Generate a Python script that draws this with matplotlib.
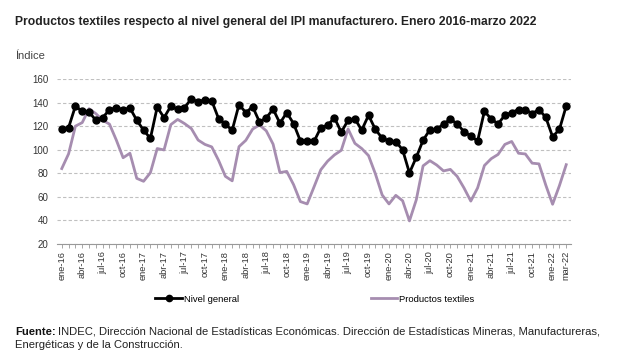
import matplotlib
matplotlib.use("Agg")
import matplotlib.pyplot as plt
from matplotlib.lines import Line2D

months_es = ["ene", "feb", "mar", "abr", "may", "jun", "jul", "ago", "sep", "oct", "nov", "dic"]
categories = [f"{months_es[m]}-{str(y)[2:]}" for y in range(2016, 2023) for m in range(12)][:75]

nivel_general = [117.4, 118.8, 137.0, 132.5, 132.0, 125.0, 127.2, 134.0, 135.6, 134.0, 135.4, 125.0,
                 116.6, 109.6, 136.2, 127.2, 137.0, 134.2, 135.6, 143.2, 140.4, 142.6, 141.5, 126.4,
                 121.5, 116.6, 138.3, 131.5, 136.5, 123.6, 127.0, 134.5, 122.5, 131.5, 122.2, 107.5,
                 107.0, 107.0, 118.7, 120.8, 127.0, 114.9, 125.0, 126.2, 116.6, 129.2, 117.3, 109.8,
                 107.5, 106.9, 99.9, 80.3, 93.5, 108.0, 117.0, 117.3, 121.8, 125.7, 122.2, 115.2,
                 111.7, 107.4, 132.7, 126.0, 122.0, 129.2, 131.5, 134.1, 134.1, 130.6, 134.1, 127.5,
                 111.0, 117.2, 137.1]

productos_textiles = [84.0, 96.5, 120.0, 123.0, 134.8, 130.6, 125.0, 121.7, 108.2, 93.2, 97.0, 75.7,
                      73.2, 80.5, 101.0, 99.8, 121.3, 125.7, 122.2, 118.0, 108.2, 104.5, 102.4, 91.0,
                      77.4, 73.6, 102.6, 108.0, 117.5, 121.0, 116.0, 104.7, 80.6, 81.6, 70.4, 56.0,
                      54.0, 68.4, 83.0, 90.3, 95.6, 99.5, 117.6, 105.4, 101.0, 95.0, 79.6, 61.6,
                      54.0, 61.3, 56.7, 39.6, 57.4, 86.3, 90.7, 87.0, 82.0, 83.3, 77.4, 67.6,
                      56.4, 67.6, 86.6, 92.4, 96.0, 104.5, 107.0, 97.0, 96.4, 88.6, 88.0, 70.0,
                      53.7, 69.5, 87.3]

y_ticks = [20, 40, 60, 80, 100, 120, 140, 160]

plt.rcParams['font.family'] = ['Liberation Sans', 'DejaVu Sans']

W, H = 618, 359
fig = plt.figure(figsize=(W / 100, H / 100), dpi=100)
ax = fig.add_axes([57 / W, 1 - 244 / H, (571 - 57) / W, (244 - 79) / H])

x = list(range(len(categories)))
purple = "#A68DB0"
ax.plot(x, productos_textiles, color=purple, lw=2.0, zorder=3)
ax.plot(x, nivel_general, color="black", lw=2.0, marker="o", markersize=5, zorder=4)

ax.set_xlim(-0.7, 74.7)
ax.set_ylim(20, 160)
ax.set_yticks(y_ticks)
ax.yaxis.grid(True, color="#c0c0c0", ls=(0, (3, 2)), lw=0.8)
ax.set_axisbelow(True)
for s in ["top", "right", "left"]:
    ax.spines[s].set_visible(False)
ax.spines["bottom"].set_color("#999999")
ax.spines["bottom"].set_linewidth(0.8)

label_idx = list(range(0, 75, 3)) + [74]
ax.set_xticks(x, minor=False)
ax.set_xticklabels([categories[i] if i in label_idx else "" for i in x],
                   rotation=90, fontsize=6.7, color="#333333")
ax.tick_params(axis="x", length=3, width=0.6, color="#999999", pad=2)
ax.tick_params(axis="y", length=0, labelsize=7, colors="#333333", pad=6)

fig.text(15 / W, 1 - 22 / H, "Productos textiles respecto al nivel general del IPI manufacturero. Enero 2016-marzo 2022",
         fontsize=8.7, fontweight="bold", color="#222222", va="center", ha="left",
         family=['Liberation Sans Narrow', 'Liberation Sans', 'DejaVu Sans'])
fig.text(15 / W, 1 - 56 / H, "Índice", fontsize=8, color="#444444", va="center", ha="left",
         family=['Liberation Sans Narrow', 'Liberation Sans', 'DejaVu Sans'])

handles = [Line2D([0], [0], color="black", lw=2.0, marker="o", markersize=4.5),
           Line2D([0], [0], color=purple, lw=2.0)]
fig.legend(handles, ["Nivel general", "Productos textiles"], loc="center",
           bbox_to_anchor=(315 / W, 1 - 299 / H), ncol=2, frameon=False, fontsize=6.8,
           handlelength=2.8, handletextpad=0.2, columnspacing=14)

fx, fy = 15 / W, 1 - 332 / H
t1 = fig.text(fx, fy, "Fuente:", fontsize=8.1, fontweight="bold", color="#111111", va="center", ha="left")
fig.canvas.draw()
bb = t1.get_window_extent(renderer=fig.canvas.get_renderer())
fig.text(fx + (bb.width + 2) / W, fy,
         "INDEC, Dirección Nacional de Estadísticas Económicas. Dirección de Estadísticas Mineras, Manufactureras,",
         fontsize=8.1, color="#222222", va="center", ha="left")
fig.text(fx, 1 - 345 / H, "Energéticas y de la Construcción.", fontsize=8.1, color="#222222",
         va="center", ha="left")

fig.savefig("out.png", dpi=100, facecolor="white")
